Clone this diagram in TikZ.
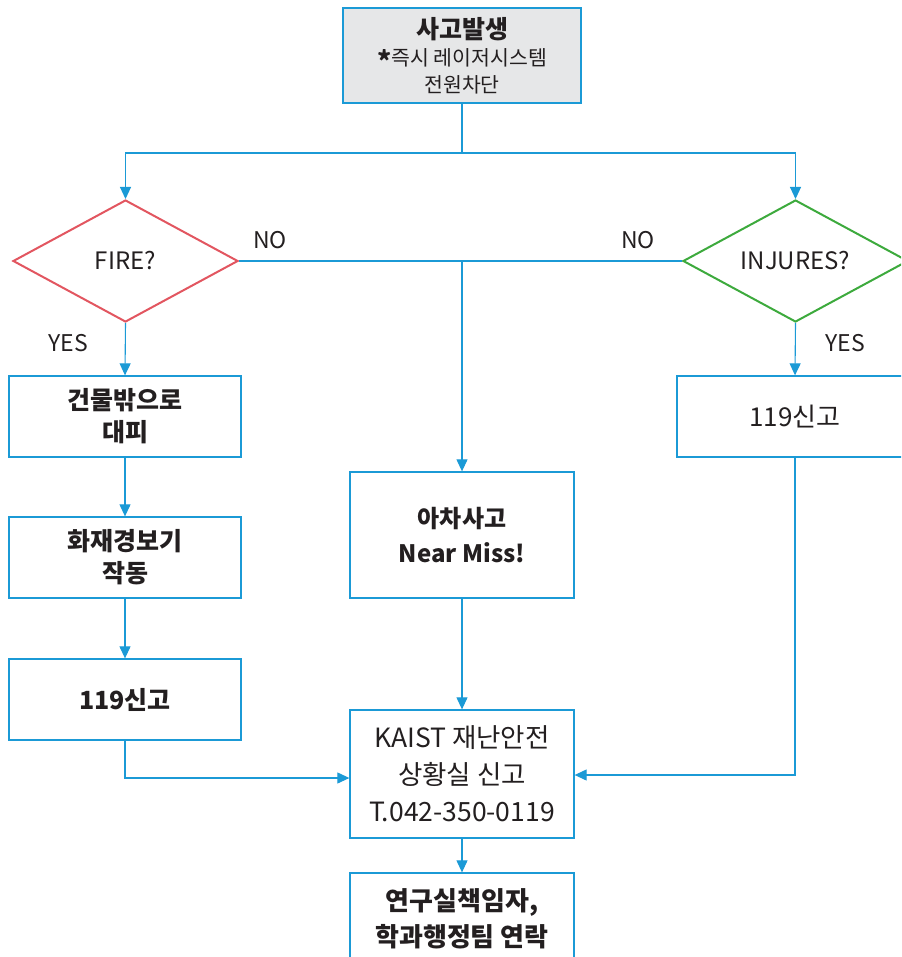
\documentclass[tikz,border=0pt]{standalone}
\usepackage{fontspec}
\setmainfont{Noto Sans CJK KR}
\usetikzlibrary{shapes.geometric,arrows.meta}
\definecolor{linecol}{RGB}{27,154,214}
\definecolor{firecol}{RGB}{226,86,96}
\definecolor{injcol}{RGB}{61,170,61}
\definecolor{topfill}{RGB}{230,231,232}
\definecolor{txt}{RGB}{35,31,32}
\tikzset{
  box/.style={draw=linecol, line width=1.3pt, rectangle, inner sep=0pt, align=center, text=txt},
  dia/.style={diamond, line width=2pt, inner sep=0pt, minimum width=225pt, minimum height=122pt, aspect=1.84, text=txt, font=\fontsize{24}{28}\selectfont},
  lbl/.style={text=txt, font=\fontsize{23}{26}\selectfont},
  conn/.style={draw=linecol, line width=1.1pt},
  arr/.style={conn, -{Triangle[length=12pt,width=11pt]}},
}
\begin{document}
\begin{tikzpicture}[x=1pt,y=-1pt]
\useasboundingbox (0,0) rectangle (901,957);
\clip (0,0) rectangle (901,957);
% top
\node[box, fill=topfill, line width=2.6pt, minimum width=238pt, minimum height=95pt, font=\fontsize{25}{31}\selectfont\bfseries] (top) at (462,55.5)
  {사고발생\\[-4pt]
   \fontsize{20.5}{25}\selectfont\mdseries\raisebox{-0.3em}{\fontsize{27}{27}\selectfont\bfseries *}즉시 레이저시스템\\[-4pt]
   \fontsize{20.5}{25}\selectfont\mdseries 전원차단};
% diamonds
\node[dia, draw=firecol] (fire) at (125.5,261) {FIRE?};
\node[dia, draw=injcol] (inj) at (795.5,261) {INJURES?};
% left boxes
\node[box, minimum width=232pt, minimum height=81pt, font=\fontsize{25}{32}\selectfont\bfseries] (b1) at (125,416.5) {건물밖으로\\대피};
\node[box, minimum width=232pt, minimum height=81pt, font=\fontsize{25}{32}\selectfont\bfseries] (b2) at (125,557.5) {화재경보기\\작동};
\node[box, minimum width=232pt, minimum height=81pt, font=\fontsize{25}{32}\selectfont\bfseries] (b3) at (125,699.5) {119신고};
% middle
\node[box, minimum width=224pt, minimum height=126pt, font=\fontsize{24}{35}\selectfont\bfseries] (nm) at (462,535) {아차사고\\Near Miss!};
\node[box, minimum width=224pt, minimum height=128pt, font=\fontsize{26.5}{37}\selectfont] (ks) at (462,774) {KAIST 재난안전\\상황실 신고\\T.042-350-0119};
\node[box, minimum width=224pt, minimum height=92pt, font=\fontsize{26}{36}\selectfont\bfseries] (bt) at (462,919) {연구실책임자,\\학과행정팀 연락};
% right
\node[box, minimum width=236pt, minimum height=81pt, font=\fontsize{26}{32}\selectfont] (r1) at (795,416.5) {119신고};
% labels
\node[lbl] (no1) at (270,240) {NO};
\node[lbl] (no2) at (638,240) {NO};
\node[lbl] (yes1) at (68,343) {YES};
\node[lbl] (yes2) at (845,343) {YES};
% connectors
\coordinate (split) at (462,153);
\draw[conn] (top.south) -- (split);
\draw[arr] (split) -| (fire.north);
\draw[arr] (split) -| (inj.north);
\draw[conn] (fire.east) -- (inj.west);
\coordinate (mid) at (462,261);
\draw[arr] (mid) -- (nm.north);
\draw[arr] (fire.south) -- (b1.north);
\draw[arr] (b1.south) -- (b2.north);
\draw[arr] (b2.south) -- (b3.north);
\coordinate (lj) at (125,778);
\draw[arr] (b3.south) -- (lj) -- (lj -| ks.west);
\draw[arr] (inj.south) -- (r1.north);
\coordinate (rj) at (795,775);
\draw[arr] (r1.south) -- (rj) -- (rj -| ks.east);
\draw[arr] (nm.south) -- (ks.north);
\draw[arr] (ks.south) -- (bt.north);
\end{tikzpicture}
\end{document}
